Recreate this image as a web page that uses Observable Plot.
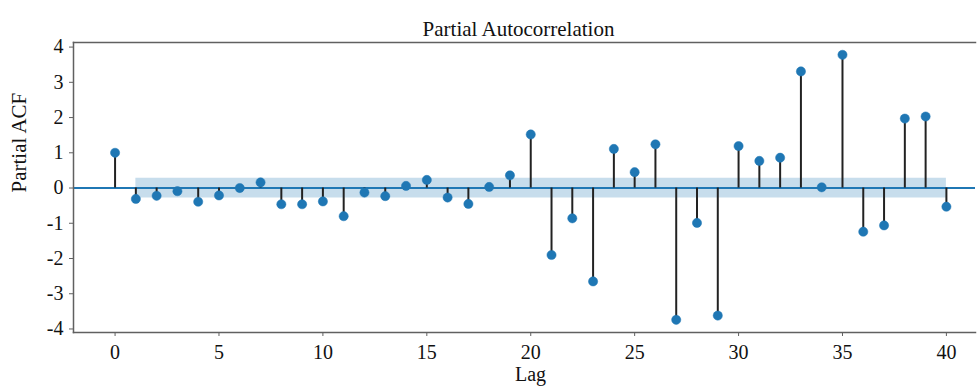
<!DOCTYPE html>
<html>
<head>
<meta charset="utf-8">
<script src="https://cdn.jsdelivr.net/npm/d3@7"></script>
<script src="https://cdn.jsdelivr.net/npm/@observablehq/plot@0.6"></script>
<style>
  html, body { margin: 0; padding: 0; background: #fff; overflow: hidden; }
  svg { display: block; }
  svg text { font-family: 'Liberation Serif', 'DejaVu Serif', serif; font-variant: normal; }
</style>
</head>
<body>
<div id="chart"></div>
<script>
const lags = [0,1,2,3,4,5,6,7,8,9,10,11,12,13,14,15,16,17,18,19,20,21,22,23,24,25,26,27,28,29,30,31,32,33,34,35,36,37,38,39,40];
const pacfValues = [1.0,-0.31,-0.22,-0.09,-0.39,-0.21,0.0,0.16,-0.46,-0.46,-0.38,-0.80,-0.13,-0.23,0.06,0.23,-0.27,-0.45,0.03,0.36,1.52,-1.90,-0.86,-2.65,1.11,0.45,1.24,-3.74,-0.99,-3.62,1.19,0.77,0.86,3.31,0.02,3.78,-1.24,-1.06,1.97,2.03,-0.53];
const confLimit = 0.28;
const xTicks = [0,5,10,15,20,25,30,35,40];
const yTicks = [-4,-3,-2,-1,0,1,2,3,4];

const data = lags.map((l, i) => ({lag: l, value: pacfValues[i]}));
const band = lags.filter(l => l >= 1).map(l => ({lag: l, lo: -confLimit, hi: confLimit}));

const blue = "#1f77b4";
const frameColor = "#606060";
const serif = "'Liberation Serif', 'DejaVu Serif', serif";

const chart = Plot.plot({
  width: 978,
  height: 389,
  marginLeft: 73,
  marginRight: 3,
  marginTop: 42,
  marginBottom: 57,
  style: {fontFamily: serif, fontSize: "20px", color: "#111", background: "#fff", overflow: "visible"},
  x: {domain: [-2, 41.4], label: null},
  y: {domain: [-4.1, 4.13], label: null},
  marks: [
    Plot.areaY(band, {x: "lag", y1: "lo", y2: "hi", fill: blue, fillOpacity: 0.25}),
    Plot.ruleY([0], {stroke: blue, strokeWidth: 2}),
    Plot.ruleX(data, {x: "lag", y1: 0, y2: "value", stroke: "#222", strokeWidth: 2}),
    Plot.dot(data, {x: "lag", y: "value", r: 4.6, fill: blue, stroke: blue, strokeWidth: 0.5}),
    Plot.frame({anchor: "top", stroke: frameColor, strokeWidth: 1.5}),
    Plot.frame({anchor: "left", stroke: frameColor, strokeWidth: 1.5}),
    Plot.frame({anchor: "bottom", stroke: frameColor, strokeWidth: 1.5}),
    Plot.axisX({ticks: xTicks, tickSize: 4, tickPadding: 8, stroke: frameColor, fill: "#111", fontSize: 20, fontFamily: serif, label: null}),
    Plot.axisY({ticks: yTicks, tickSize: 4, tickPadding: 6, stroke: frameColor, fill: "#111", fontSize: 20, fontFamily: serif, label: null, tickFormat: d => String(d)}),
    Plot.text(["Partial Autocorrelation"], {frameAnchor: "top", dx: -6, dy: -21, fontSize: 21, fontFamily: serif, fill: "#111"}),
    Plot.text(["Lag"], {frameAnchor: "bottom", dx: 6, dy: 48, fontSize: 20, fontFamily: serif, fill: "#111"}),
    Plot.text(["Partial ACF"], {frameAnchor: "left", dx: -54, dy: 5, rotate: -90, fontSize: 21, fontFamily: serif, fill: "#111"})
  ]
});
document.getElementById("chart").appendChild(chart);
</script>
</body>
</html>
